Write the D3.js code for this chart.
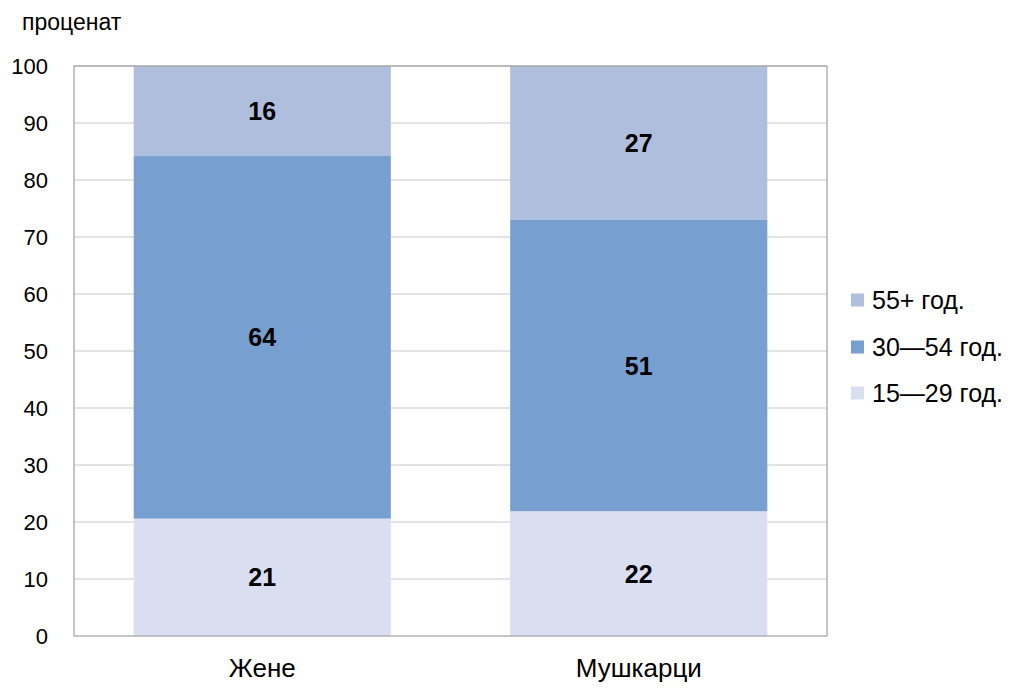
<!DOCTYPE html>
<html lang="sr">
<head>
<meta charset="utf-8">
<title>Chart</title>
<script src="https://d3js.org/d3.v7.min.js"></script>
<style>
  body { margin: 0; background: #fff; }
  svg { font-family: "Liberation Sans", Arial, sans-serif; }
</style>
</head>
<body>
<svg width="1014" height="689"></svg>
<script>
var categories = ["Жене", "Мушкарци"];
var groups = ["15—29 год.", "30—54 год.", "55+ год."];
var young = [20.6, 21.9];
var middle = [63.6, 51.1];
var older = [15.8, 27.0];
var yTicks = [0, 10, 20, 30, 40, 50, 60, 70, 80, 90, 100];
var colors = ["#d9dff1", "#779fd0", "#afbedc"];

var svg = d3.select("svg");
var plot = {left: 74, right: 827, top: 66, bottom: 636};

var x = d3.scaleBand().domain(categories).range([plot.left, plot.right])
    .paddingInner(0.317).paddingOuter(0.1585);
var y = d3.scaleLinear().domain([0, 100]).range([plot.bottom, plot.top]);

// gridlines
svg.append("g").selectAll("line").data(yTicks.slice(1)).enter()
    .append("line")
    .attr("x1", plot.left).attr("x2", plot.right)
    .attr("y1", function(d) { return y(d); })
    .attr("y2", function(d) { return y(d); })
    .attr("stroke", "#c8c8c8").attr("stroke-width", 1);

var rows = categories.map(function(c, i) {
    return {cat: c, 0: young[i], 1: middle[i], 2: older[i]};
});
var stacked = d3.stack().keys([0, 1, 2])(rows);

var layer = svg.append("g").selectAll("g").data(stacked).enter()
    .append("g").attr("fill", function(d, i) { return colors[i]; });

layer.selectAll("rect").data(function(d) { return d; }).enter()
    .append("rect")
    .attr("x", function(d) { return x(d.data.cat); })
    .attr("width", x.bandwidth())
    .attr("y", function(d) { return y(d[1]); })
    .attr("height", function(d) { return y(d[0]) - y(d[1]); });

layer.selectAll("text").data(function(d) { return d; }).enter()
    .append("text")
    .attr("x", function(d) { return x(d.data.cat) + x.bandwidth() / 2; })
    .attr("y", function(d) { return (y(d[0]) + y(d[1])) / 2; })
    .attr("dy", "0.36em")
    .attr("text-anchor", "middle")
    .attr("font-weight", "bold").attr("font-size", 25).attr("fill", "#000")
    .text(function(d) { return Math.round(d[1] - d[0]); });

// frame
svg.append("rect")
    .attr("x", plot.left).attr("y", plot.top)
    .attr("width", plot.right - plot.left).attr("height", plot.bottom - plot.top)
    .attr("fill", "none").attr("stroke", "#a0a0a0").attr("stroke-width", 1.2);

// y axis
var yAxis = svg.append("g")
    .attr("transform", "translate(" + plot.left + ",0)")
    .call(d3.axisLeft(y).tickValues(yTicks).tickSize(0).tickPadding(26));
yAxis.select(".domain").remove();
yAxis.selectAll("text").attr("font-size", 22).attr("fill", "#000")
    .attr("font-family", "Liberation Sans, Arial, sans-serif");

// x axis
var xAxis = svg.append("g")
    .attr("transform", "translate(0," + plot.bottom + ")")
    .call(d3.axisBottom(x).tickSize(0).tickPadding(23));
xAxis.select(".domain").remove();
xAxis.selectAll("text").attr("font-size", 26).attr("fill", "#000")
    .attr("font-family", "Liberation Sans, Arial, sans-serif");

svg.append("text").attr("x", 22).attr("y", 30)
    .attr("font-size", 23).text("проценат");

// legend
var legendOrder = [2, 1, 0];
var legendY = [300, 347, 393];
var legend = svg.append("g").selectAll("g").data(legendOrder).enter()
    .append("g")
    .attr("transform", function(d, i) { return "translate(851," + legendY[i] + ")"; });
legend.append("rect").attr("x", 0).attr("y", -6.5).attr("width", 13).attr("height", 13)
    .attr("fill", function(d) { return colors[d]; });
legend.append("text").attr("x", 21).attr("dy", "0.36em")
    .attr("font-size", 25).text(function(d) { return groups[d]; });
</script>
</body>
</html>
